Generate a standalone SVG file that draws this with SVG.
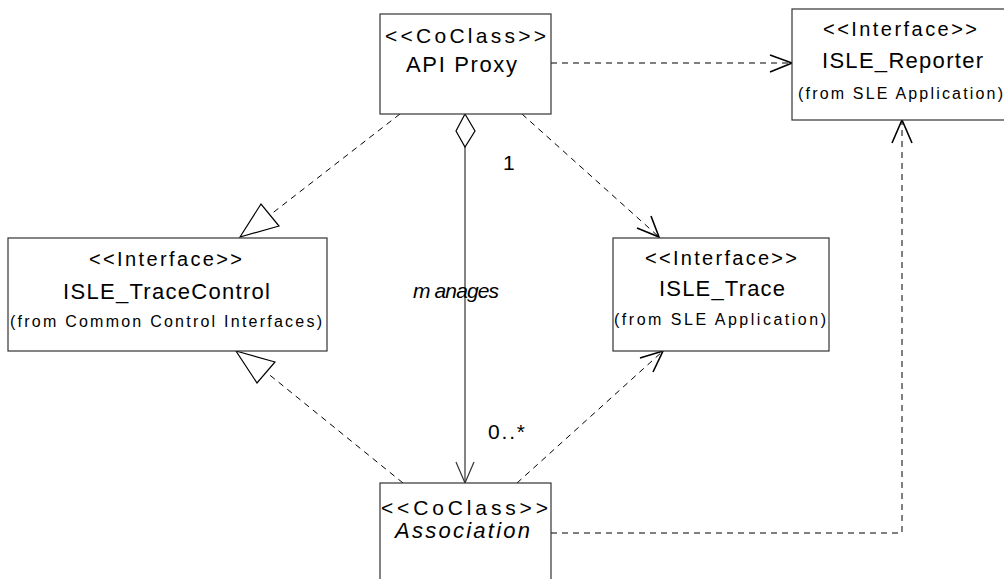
<svg xmlns="http://www.w3.org/2000/svg" width="1004" height="579" viewBox="0 0 1004 579">
<style>
.box{fill:#fff;stroke:#333;stroke-width:1.2}
.t{font-family:"Liberation Sans",Arial,sans-serif;fill:#000}
.st{font-size:20px}
.nm{font-size:22px}
.fr{font-size:16px}
.it{font-style:italic}
.dash{fill:none;stroke:#000;stroke-width:1;stroke-dasharray:6,5}
.solid{fill:none;stroke:#333;stroke-width:1.2}
.head{fill:none;stroke:#000;stroke-width:1.6}
.tri{fill:#fff;stroke:#000;stroke-width:1.2}
</style>
<rect width="1004" height="579" fill="#fff"/>
<g id="connectors">
  <line class="dash" x1="400" y1="114" x2="270" y2="215"/>
  <polygon class="tri" points="240,237 261,204 279,226"/>
  <line class="dash" x1="403" y1="483" x2="266" y2="372"/>
  <polygon class="tri" points="236,351 275,362 257,383"/>
  <line class="solid" x1="465" y1="147" x2="465" y2="483"/>
  <polygon class="tri" points="465,114 475,131 465,147 456,131"/>
  <polyline class="solid" points="456,462 465,483 474,462"/>
  <line class="dash" x1="522" y1="114" x2="659" y2="237"/>
  <polyline class="head" points="637,228 659,237 651,216"/>
  <line class="dash" x1="517" y1="483" x2="663" y2="351"/>
  <polyline class="head" points="640,358 663,351 653,372"/>
  <line class="dash" x1="551" y1="63" x2="792" y2="63"/>
  <polyline class="head" points="770,55 792,63 770,72"/>
  <polyline class="dash" points="551,533 902,533 902,121"/>
  <polyline class="head" points="892,143 902,120 912,143"/>
  <text class="t" x="503" y="170" font-size="21">1</text>
  <text class="t it" x="413" y="298" font-size="21" textLength="86" lengthAdjust="spacing">m anages</text>
  <text class="t" x="488" y="439" font-size="21" textLength="37" lengthAdjust="spacing">0..*</text>
</g>
<g id="api-proxy">
  <rect class="box" x="380" y="14" width="171" height="100"/>
  <text class="t" x="385" y="43" font-size="21" textLength="161" lengthAdjust="spacing">&lt;&lt;CoClass&gt;&gt;</text>
  <text class="t nm" x="406" y="72" textLength="111" lengthAdjust="spacing">API Proxy</text>
</g>
<g id="isle-reporter">
  <rect class="box" x="792" y="9" width="230" height="111"/>
  <text class="t st" x="823" y="36" textLength="154" lengthAdjust="spacing">&lt;&lt;Interface&gt;&gt;</text>
  <text class="t nm" x="822" y="68" textLength="161" lengthAdjust="spacing">ISLE_Reporter</text>
  <text class="t fr" x="798" y="99" textLength="205" lengthAdjust="spacing">(from SLE Application)</text>
</g>
<g id="isle-tracecontrol">
  <rect class="box" x="8" y="238" width="319" height="113"/>
  <text class="t st" x="89" y="266" textLength="153" lengthAdjust="spacing">&lt;&lt;Interface&gt;&gt;</text>
  <text class="t nm" x="63" y="299" textLength="207" lengthAdjust="spacing">ISLE_TraceControl</text>
  <text class="t fr" x="10" y="327" textLength="312" lengthAdjust="spacing">(from Common Control Interfaces)</text>
</g>
<g id="isle-trace">
  <rect class="box" x="613" y="238" width="216" height="113"/>
  <text class="t st" x="645" y="265" textLength="152" lengthAdjust="spacing">&lt;&lt;Interface&gt;&gt;</text>
  <text class="t nm" x="659" y="296" textLength="126" lengthAdjust="spacing">ISLE_Trace</text>
  <text class="t fr" x="614" y="325" textLength="212" lengthAdjust="spacing">(from SLE Application)</text>
</g>
<g id="association">
  <rect class="box" x="380" y="483" width="171" height="110"/>
  <text class="t" x="381" y="515" font-size="21" textLength="167" lengthAdjust="spacing">&lt;&lt;CoClass&gt;&gt;</text>
  <text class="t nm it" x="395" y="538" textLength="135" lengthAdjust="spacing">Association</text>
</g>
</svg>
